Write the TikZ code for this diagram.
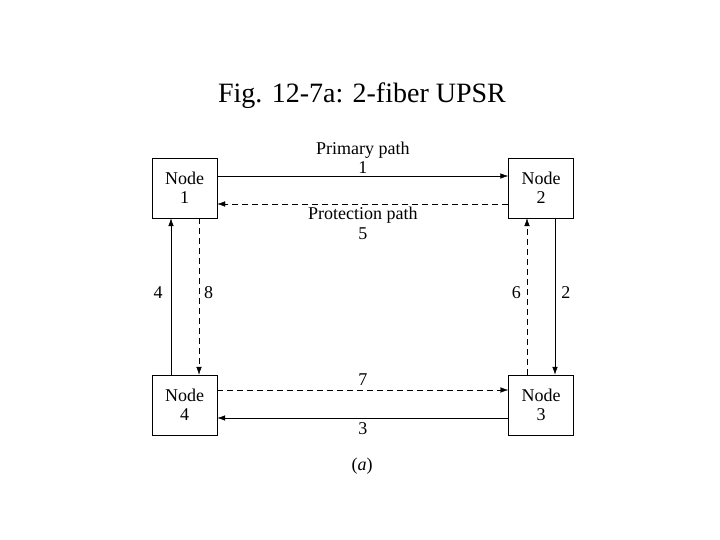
\documentclass[tikz,border=0pt]{standalone}
\usepackage{fontspec}
\setmainfont{Liberation Serif}
\usetikzlibrary{positioning}
\usetikzlibrary{arrows.meta}

\tikzset{
    ringnode/.style={draw, thin, minimum width=65pt, minimum height=60pt, align=center, font=\fontsize{18}{19.5}\selectfont, inner sep=0pt},
    work/.style={-{Latex[length=8pt,width=5.5pt]}, semithick},
    protect/.style={-{Latex[length=8pt,width=5.5pt]}, thin, dash pattern=on 6pt off 4pt},
    lbl/.style={font=\fontsize{18}{19.5}\selectfont, align=center, inner sep=2pt}
}

\begin{document}
\begin{tikzpicture}[x=1pt, y=-1pt]
    \useasboundingbox (0,0) rectangle (720,540);

    \node[font=\fontsize{28}{30}\selectfont] (title) at (362,96) {Fig. 12-7a: 2-fiber UPSR};

    \node[ringnode] (n1) at (184.5,188) {Node\\1};
    \node[ringnode] (n2) at (541,188) {Node\\2};
    \node[ringnode] (n3) at (541,405) {Node\\3};
    \node[ringnode] (n4) at (184.5,405) {Node\\4};

    % primary (working) fiber, clockwise
    \draw[work] ([yshift=12pt]n1.east) -- ([yshift=12pt]n2.west) node[lbl, midway, above, yshift=0pt] {Primary path\\1};
    \draw[work] ([xshift=14pt]n2.south) -- ([xshift=14pt]n3.north) node[lbl, midway, right, xshift=4pt, yshift=4pt] {2};
    \draw[work] ([yshift=-13pt]n3.west) -- ([yshift=-13pt]n4.east) node[lbl, midway, below, yshift=-2pt] {3};
    \draw[work] ([xshift=-13.5pt]n4.north) -- ([xshift=-13.5pt]n1.south) node[lbl, midway, left, xshift=-6pt, yshift=4pt] {4};

    % protection fiber, counter-clockwise
    \draw[protect] ([yshift=-16pt]n2.west) -- ([yshift=-16pt]n1.east) node[lbl, midway, below, yshift=-1pt] {Protection path\\5};
    \draw[protect] ([xshift=-14pt]n3.north) -- ([xshift=-14pt]n2.south) node[lbl, midway, left, xshift=-4pt, yshift=4pt] {6};
    \draw[protect] ([yshift=15pt]n4.east) -- ([yshift=15pt]n3.west) node[lbl, midway, above, yshift=2pt] {7};
    \draw[protect] ([xshift=14.5pt]n1.south) -- ([xshift=14.5pt]n4.north) node[lbl, midway, right, xshift=3pt, yshift=4pt] {8};

    \node[lbl] (cap) at (362,466) {(\textit{a})};
\end{tikzpicture}
\end{document}
